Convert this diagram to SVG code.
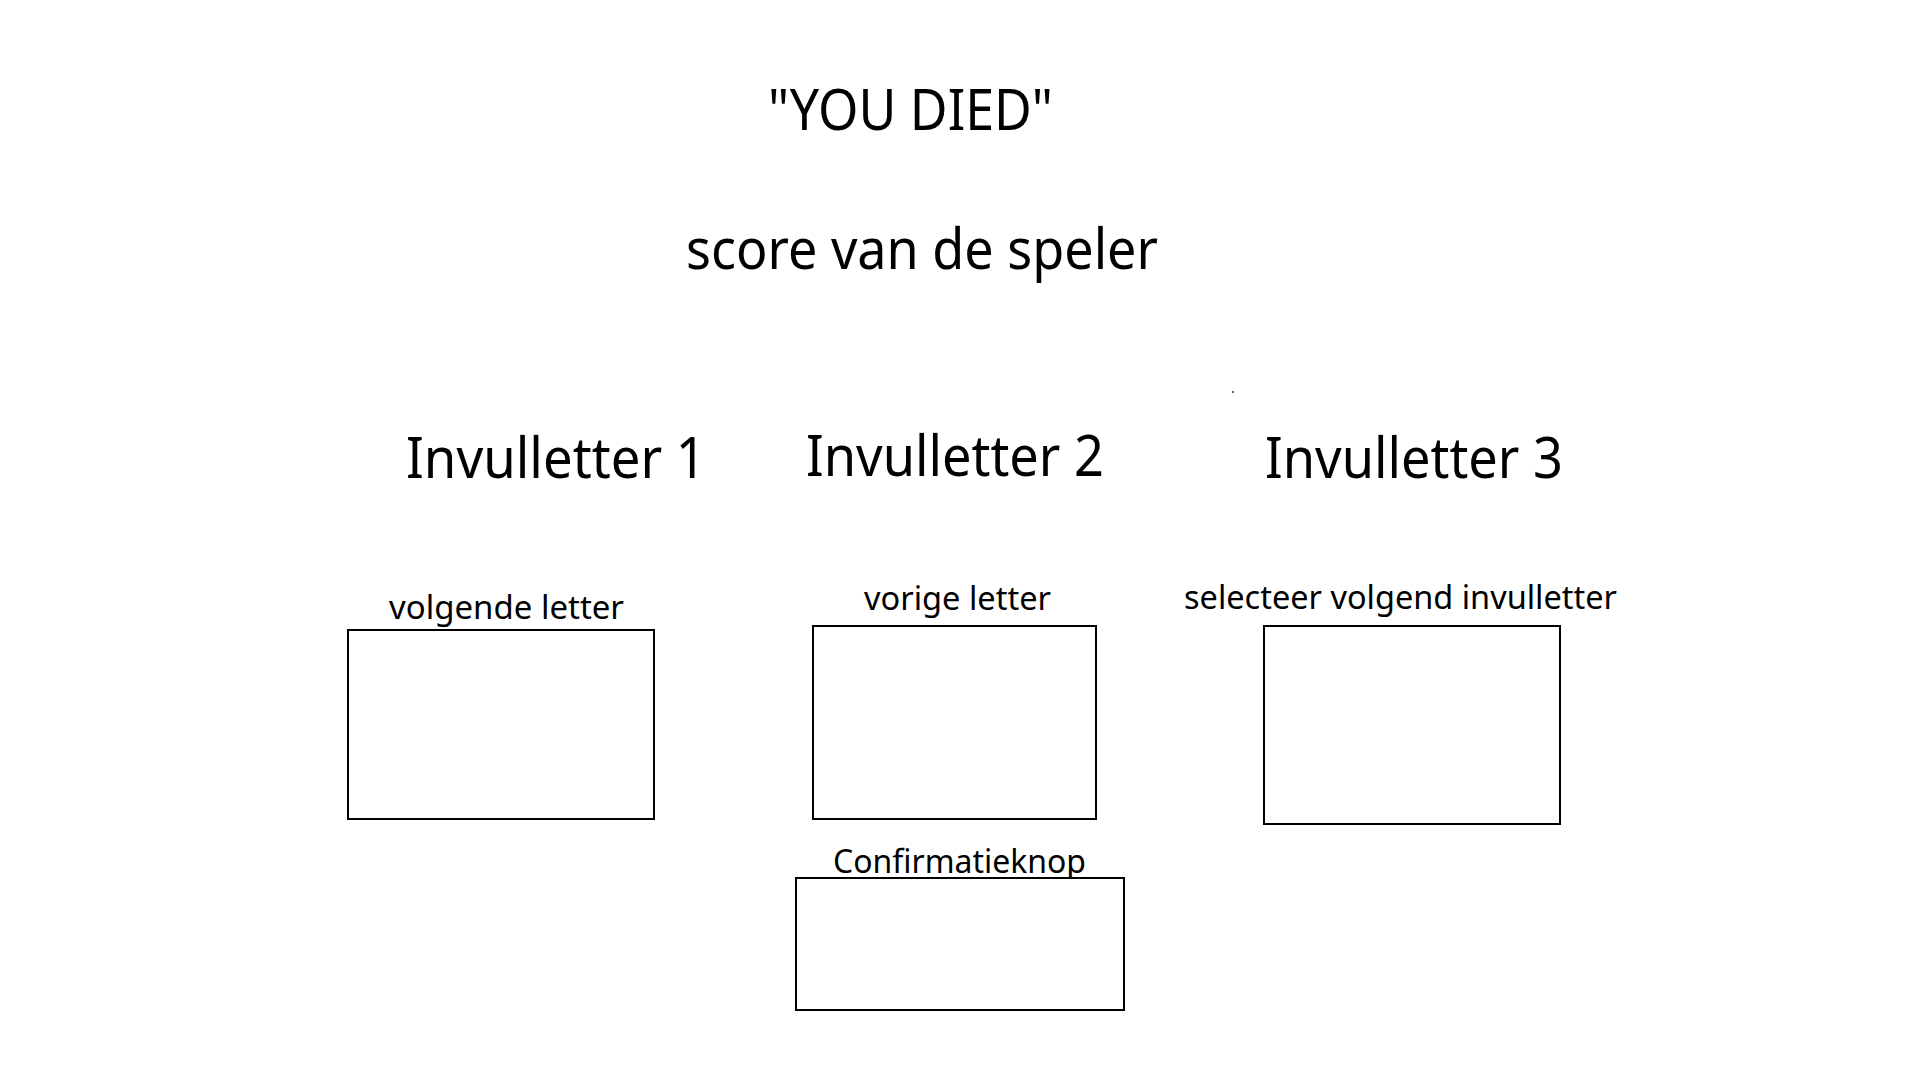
<svg xmlns="http://www.w3.org/2000/svg" width="1920" height="1080" viewBox="0 0 1920 1080">
<style>
text{font-family:"Noto Sans","Open Sans","DejaVu Sans",sans-serif;fill:#000}
.big{font-size:56px}
.small{font-size:32px}
.box{fill:#fff;stroke:#000;stroke-width:2}
</style>
<rect x="0" y="0" width="1920" height="1080" fill="#fff"/>
<g id="title"><text class="big" x="768" y="130" textLength="285" lengthAdjust="spacingAndGlyphs">"YOU DIED"</text></g>
<g id="score"><text class="big" x="686" y="269" textLength="472" lengthAdjust="spacingAndGlyphs">score van de speler</text></g>
<g id="invulletter1"><text class="big" x="406" y="478" textLength="300" lengthAdjust="spacingAndGlyphs">Invulletter 1</text></g>
<g id="invulletter2"><text class="big" x="806" y="476" textLength="298" lengthAdjust="spacingAndGlyphs">Invulletter 2</text></g>
<g id="invulletter3"><text class="big" x="1265" y="478" textLength="298" lengthAdjust="spacingAndGlyphs">Invulletter 3</text></g>
<g id="volgende">
<text class="small" x="389" y="619" textLength="235" lengthAdjust="spacingAndGlyphs">volgende letter</text>
<rect class="box" x="348" y="630" width="306" height="189"/>
</g>
<g id="vorige">
<text class="small" x="864" y="610" textLength="187" lengthAdjust="spacingAndGlyphs">vorige letter</text>
<rect class="box" x="813" y="626" width="283" height="193"/>
</g>
<g id="selecteer">
<text class="small" x="1184" y="609" textLength="433" lengthAdjust="spacingAndGlyphs">selecteer volgend invulletter</text>
<rect class="box" x="1264" y="626" width="296" height="198"/>
</g>
<g id="confirm">
<text class="small" x="833" y="873" textLength="253" lengthAdjust="spacingAndGlyphs">Confirmatieknop</text>
<rect class="box" x="796" y="878" width="328" height="132"/>
</g>
<g id="connectors"></g>
<rect x="1232" y="391" width="2" height="2" fill="#666"/>
</svg>
